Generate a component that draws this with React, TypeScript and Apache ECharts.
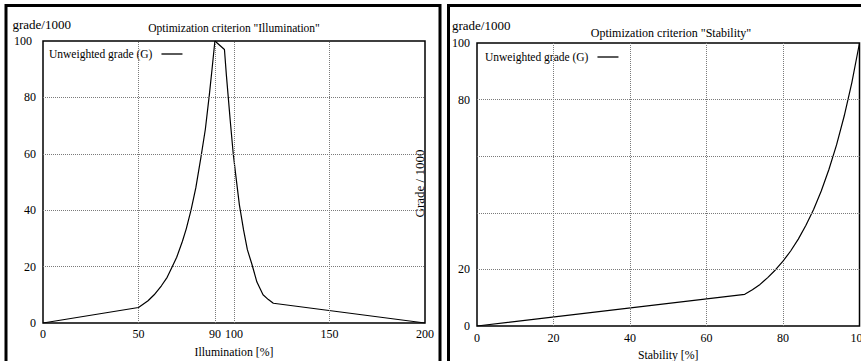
import React, { useEffect, useRef } from "react";
import * as echarts from "echarts";

// Left chart: Illumination criterion
const illumX = [0, 50, 55, 58.2, 62, 65, 67.4, 70, 73, 75, 77.5, 80, 82.7, 85, 87.1, 88.5, 90, 95, 96, 97, 98, 99.6, 101, 102.8, 105, 107, 109.3, 112, 115.2, 118, 120.6, 200];
const illumY = [0, 5.5, 7.9, 10, 13.2, 16.2, 19.6, 23.3, 29, 33.4, 40, 47.9, 58.8, 68.7, 81, 90, 100, 97, 88, 80, 72, 60, 52, 42, 33, 26, 21, 14.5, 10, 8.3, 7, 0];
const illumTickLabels = [0, 50, 90, 100, 150, 200];
const illumGridX = [50, 90, 100, 150];

// Right chart: Stability criterion
const stabX = [0, 70, 72, 74, 76, 78, 80, 82, 84, 86, 88, 90, 92, 94, 96, 98, 100];
const stabY = [0, 11.2, 12.8, 14.7, 17.1, 19.8, 22.9, 26.5, 30.7, 35.6, 41.2, 47.7, 55.3, 64, 74.2, 86, 100];
const stabGridX = [20, 40, 60, 80];
const stabHiddenY = [40, 60];

const gridY = [20, 40, 60, 80];

const SERIF = "Liberation Serif";
const LEGEND = "Unweighted grade (G)";

function pairs(xs: number[], ys: number[]) {
  return xs.map((x, i) => [x, ys[i]]);
}

function gridMarkLine(xs: number[]) {
  return {
    symbol: "none",
    silent: true,
    label: { show: false },
    lineStyle: { color: "#7a7a7a", type: "dotted", width: 1 },
    data: [...xs.map((v) => ({ xAxis: v })), ...gridY.map((v) => ({ yAxis: v }))],
  };
}

export default function App() {
  const ref = useRef<HTMLDivElement>(null);
  useEffect(() => {
    if (!ref.current) return;
    const chart = echarts.init(ref.current, undefined, { renderer: "svg" });
    const axisLabelBase = { color: "#000", fontFamily: SERIF, fontSize: 12 };
    const nameStyle = { color: "#000", fontFamily: SERIF, fontSize: 11.8 };
    const legendBase = {
      padding: 0, align: "right", itemWidth: 21, itemHeight: 1.3, icon: "rect",
      data: [LEGEND], selectedMode: false,
      itemStyle: { color: "#000", borderWidth: 0 },
      textStyle: { color: "#000", fontFamily: SERIF, fontSize: 11.5, padding: [0, 4, 0, 0] },
    };
    chart.setOption({
      animation: false,
      backgroundColor: "#fff",
      textStyle: { fontFamily: SERIF, color: "#000" },
      grid: [
        { left: 43, top: 41, width: 382, height: 282, show: true, borderColor: "#000", borderWidth: 1.5, backgroundColor: "transparent", outerBoundsMode: "none", containLabel: false },
        { left: 477, top: 43, width: 382.5, height: 283, show: true, borderColor: "#000", borderWidth: 1.5, backgroundColor: "transparent", outerBoundsMode: "none", containLabel: false },
      ],
      xAxis: [
        {
          gridIndex: 0, type: "value", min: 0, max: 200, interval: 10,
          axisLine: { show: false }, axisTick: { show: false }, splitLine: { show: false },
          axisLabel: { ...axisLabelBase, margin: 5, formatter: (v: number) => (illumTickLabels.includes(v) ? String(v) : "") },
          name: "Illumination [%]", nameLocation: "middle", nameGap: 23,
          nameTextStyle: nameStyle,
        },
        {
          gridIndex: 1, type: "value", min: 0, max: 100, interval: 20,
          axisLine: { show: false }, axisTick: { show: false }, splitLine: { show: false },
          axisLabel: { ...axisLabelBase, margin: 6 },
          name: "Stability [%]", nameLocation: "middle", nameGap: 23,
          nameTextStyle: nameStyle,
        },
      ],
      yAxis: [
        {
          gridIndex: 0, type: "value", min: 0, max: 100, interval: 20,
          axisLine: { show: false }, axisTick: { show: false }, splitLine: { show: false },
          axisLabel: {
            ...axisLabelBase, margin: 7,
            formatter: (v: number) => (v === 100 ? "{top|100}" : String(v)),
            rich: { top: { fontFamily: SERIF, fontSize: 12, color: "#000", padding: [0, 4, 0, 0] } },
          },
        },
        {
          gridIndex: 1, type: "value", min: 0, max: 100, interval: 20,
          axisLine: { show: false }, axisTick: { show: false }, splitLine: { show: false },
          axisLabel: { ...axisLabelBase, margin: 7, formatter: (v: number) => (stabHiddenY.includes(v) ? "" : String(v)) },
        },
      ],
      legend: [
        { ...legendBase, left: 49, top: 48 },
        { ...legendBase, left: 485, top: 51 },
      ],
      series: [
        {
          name: LEGEND, type: "line", xAxisIndex: 0, yAxisIndex: 0,
          data: pairs(illumX, illumY), symbol: "none", smooth: false,
          lineStyle: { color: "#000", width: 1.2 }, itemStyle: { color: "#000" },
          markLine: gridMarkLine(illumGridX), z: 3,
        },
        {
          name: LEGEND, type: "line", xAxisIndex: 1, yAxisIndex: 1,
          data: pairs(stabX, stabY), symbol: "none", smooth: false,
          lineStyle: { color: "#000", width: 1.2 }, itemStyle: { color: "#000" },
          markLine: gridMarkLine(stabGridX), z: 3,
        },
      ],
      graphic: [
        { type: "rect", shape: { x: 6, y: 5.5, width: 434, height: 420 }, style: { fill: "none", stroke: "#000", lineWidth: 3 }, silent: true },
        { type: "rect", shape: { x: 448.5, y: 5.5, width: 500, height: 420 }, style: { fill: "none", stroke: "#000", lineWidth: 3 }, silent: true },
        { type: "text", x: 12.5, y: 24, style: { text: "grade/1000", fill: "#000", font: `13px ${SERIF}`, align: "left", verticalAlign: "middle" } },
        { type: "text", x: 452, y: 25, style: { text: "grade/1000", fill: "#000", font: `13px ${SERIF}`, align: "left", verticalAlign: "middle" } },
        { type: "text", x: 234, y: 28, style: { text: 'Optimization criterion "Illumination"', fill: "#000", font: `11.5px ${SERIF}`, align: "center", verticalAlign: "middle" } },
        { type: "text", x: 671, y: 33, style: { text: 'Optimization criterion "Stability"', fill: "#000", font: `12px ${SERIF}`, align: "center", verticalAlign: "middle" } },
        { type: "text", x: 419.5, y: 183.5, rotation: Math.PI / 2, style: { text: "Grade / 1000", fill: "#000", font: `13px ${SERIF}`, align: "center", verticalAlign: "middle" } },
      ],
    });
    return () => chart.dispose();
  }, []);
  return <div ref={ref} style={{ position: "absolute", left: 0, top: 0, width: 861, height: 361 }} />;
}
